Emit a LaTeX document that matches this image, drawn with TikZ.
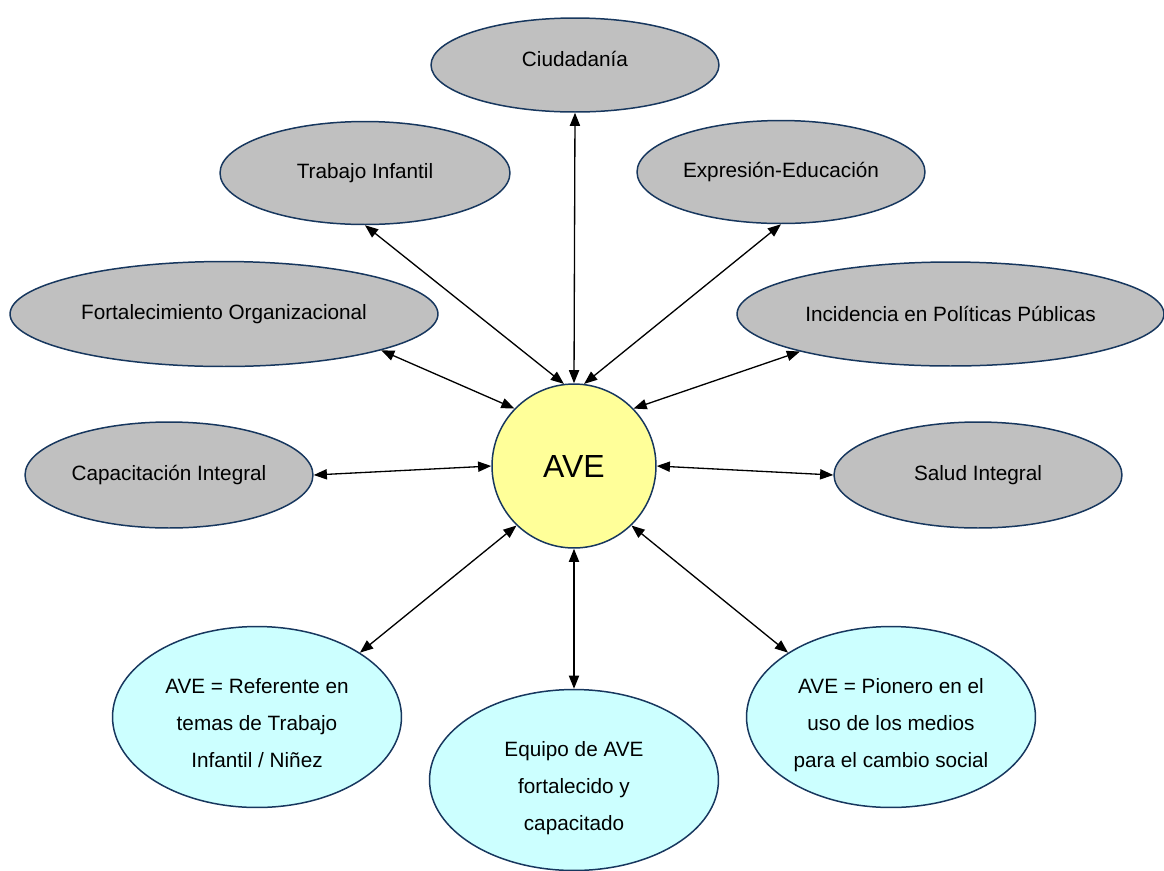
\documentclass[tikz,border=0pt]{standalone}
\usepackage{fontspec}
\setmainfont{Liberation Sans}
\usetikzlibrary{shapes.geometric,arrows.meta}
\definecolor{edgeblue}{HTML}{17375E}
\definecolor{greyfill}{HTML}{C0C0C0}
\definecolor{cyanfill}{HTML}{CCFFFF}
\definecolor{yellowfill}{HTML}{FFFF99}
\tikzset{
  topic/.style={ellipse, draw=edgeblue, line width=0.85pt, fill=greyfill, inner sep=0pt,
    font=\fontsize{11.8}{21}\selectfont},
  result/.style={ellipse, draw=edgeblue, line width=0.85pt, fill=cyanfill, inner sep=0pt,
    minimum width=5.78cm, minimum height=3.62cm, font=\fontsize{11.8}{21}\selectfont},
  hub/.style={circle, draw=edgeblue, line width=0.85pt, fill=yellowfill, inner sep=0pt,
    minimum size=3.28cm, font=\fontsize{18.2}{21}\selectfont},
  link/.style={line width=0.75pt, black, {Triangle[length=7.5pt,width=5.8pt]}-{Triangle[length=7.5pt,width=5.8pt]}}
}
\newcommand{\threelines}[3]{\raisebox{-3.5pt}[\height][\depth]{\begin{tabular}{@{}c@{}}#1\\#2\\#3\end{tabular}}}
\newcommand{\liftup}[1]{\raisebox{3.4pt}[\height][\depth]{#1}}
\begin{document}
\begin{tikzpicture}[x=0.02cm,y=-0.02cm]
\useasboundingbox (0,0) rectangle (1164,870);
\node[hub] (ave) at (574,466) {AVE};
\node[topic, minimum width=5.76cm, minimum height=1.88cm] (cd) at (575,65) {\liftup{Ciudadanía}};
\node[topic, minimum width=5.8cm, minimum height=2.06cm] (ti) at (365,173) {Trabajo Infantil};
\node[topic, minimum width=5.76cm, minimum height=2.06cm] (ee) at (781,172) {Expresión-Educación};
\node[topic, minimum width=8.56cm, minimum height=2.1cm] (fo) at (224,314) {Fortalecimiento Organizacional};
\node[topic, minimum width=8.54cm, minimum height=2.08cm] (ip) at (950.5,314) {Incidencia en Políticas Públicas};
\node[topic, minimum width=5.76cm, minimum height=2.12cm] (ci) at (169,475) {Capacitación Integral};
\node[topic, minimum width=5.76cm, minimum height=2.12cm] (si) at (978,475) {Salud Integral};
\node[result] (ref) at (257,717) {\threelines{AVE = Referente en}{temas de Trabajo}{Infantil / Niñez}};
\node[result] (eq) at (574,780) {\threelines{Equipo de AVE}{fortalecido y}{capacitado}};
\node[result] (pio) at (891,717) {\threelines{AVE = Pionero en el}{uso de los medios}{para el cambio social}};
\draw[link] (cd.south) -- (ave.north);
\draw[link] (ti.south) -- (ave.97);
\draw[link] (ee.south) -- (ave.83);
\draw[link] (fo.-13) -- (ave.136);
\draw[link] (ip.-166) -- (ave.44);
\draw[link] (ci.east) -- (ave.west);
\draw[link] (si.west) -- (ave.east);
\draw[link] (ref.32) -- (ave.-134);
\draw[link] (eq.north) -- (ave.south);
\draw[link] (pio.148) -- (ave.-46);
\end{tikzpicture}
\end{document}
